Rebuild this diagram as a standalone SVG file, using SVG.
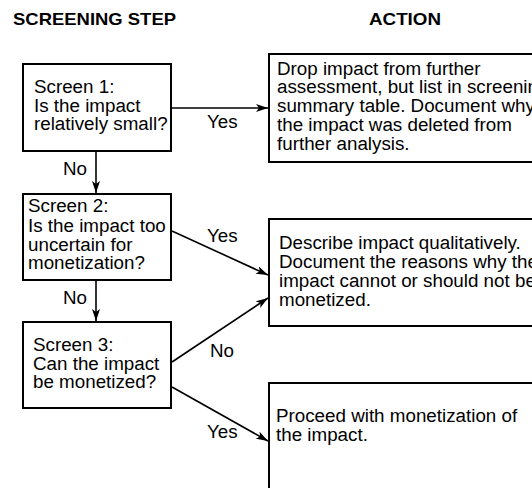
<svg xmlns="http://www.w3.org/2000/svg" width="532" height="488" viewBox="0 0 532 488">
<style>
.t{font-family:"Liberation Sans",Arial,sans-serif;font-size:18.8px;fill:#000}
.h{font-family:"Liberation Sans",Arial,sans-serif;font-size:17px;font-weight:bold;fill:#000}
.box{fill:#fff;stroke:#000;stroke-width:2}
.c{stroke:#000;stroke-width:1.6;fill:none;marker-end:url(#ah)}
</style>
<defs>
<marker id="ah" viewBox="0 0 12 8" refX="12" refY="4" markerWidth="12" markerHeight="8" markerUnits="userSpaceOnUse" orient="auto">
<path d="M0,0 L12,4 L0,8 L3,4 Z" fill="#000"/>
</marker>
</defs>
<rect width="532" height="488" fill="#fff"/>
<g id="headers">
<text class="h" x="13" y="25" textLength="163" lengthAdjust="spacingAndGlyphs">SCREENING STEP</text>
<text class="h" x="369" y="25" textLength="72" lengthAdjust="spacingAndGlyphs">ACTION</text>
</g>
<g id="connectors">
<line class="c" x1="172" y1="108" x2="268" y2="108"/>
<line class="c" x1="96" y1="152" x2="96" y2="193"/>
<line class="c" x1="96" y1="281" x2="96" y2="321"/>
<line class="c" x1="172" y1="231" x2="268" y2="275"/>
<line class="c" x1="172" y1="362" x2="268" y2="298"/>
<line class="c" x1="172" y1="387" x2="268" y2="441"/>
<text class="t" x="207" y="128">Yes</text>
<text class="t" x="63" y="175">No</text>
<text class="t" x="207" y="242">Yes</text>
<text class="t" x="63" y="304">No</text>
<text class="t" x="210" y="357">No</text>
<text class="t" x="207" y="438">Yes</text>
</g>
<g id="screen1">
<rect class="box" x="23" y="64" width="148" height="87"/>
<text class="t" x="34" y="93">Screen 1:</text>
<text class="t" x="34" y="112">Is the impact</text>
<text class="t" x="34" y="130">relatively small?</text>
</g>
<g id="screen2">
<rect class="box" x="23" y="194" width="148" height="86"/>
<text class="t" x="28" y="212">Screen 2:</text>
<text class="t" x="28" y="232">Is the impact too</text>
<text class="t" x="28" y="251">uncertain for</text>
<text class="t" x="28" y="269">monetization?</text>
</g>
<g id="screen3">
<rect class="box" x="23" y="322" width="148" height="86"/>
<text class="t" x="33" y="351">Screen 3:</text>
<text class="t" x="33" y="370">Can the impact</text>
<text class="t" x="33" y="388">be monetized?</text>
</g>
<g id="action1">
<rect class="box" x="269" y="54" width="300" height="108"/>
<text class="t" x="277" y="75">Drop impact from further</text>
<text class="t" x="277" y="93">assessment, but list in screening</text>
<text class="t" x="277" y="112">summary table. Document why</text>
<text class="t" x="277" y="131">the impact was deleted from</text>
<text class="t" x="277" y="150">further analysis.</text>
</g>
<g id="action2">
<rect class="box" x="269" y="219" width="300" height="107"/>
<text class="t" x="279" y="249">Describe impact qualitatively.</text>
<text class="t" x="279" y="268">Document the reasons why the</text>
<text class="t" x="279" y="287">impact cannot or should not be</text>
<text class="t" x="279" y="306">monetized.</text>
</g>
<g id="action3">
<rect class="box" x="269" y="383" width="300" height="200"/>
<text class="t" x="276" y="422">Proceed with monetization of</text>
<text class="t" x="276" y="441">the impact.</text>
</g>
</svg>
